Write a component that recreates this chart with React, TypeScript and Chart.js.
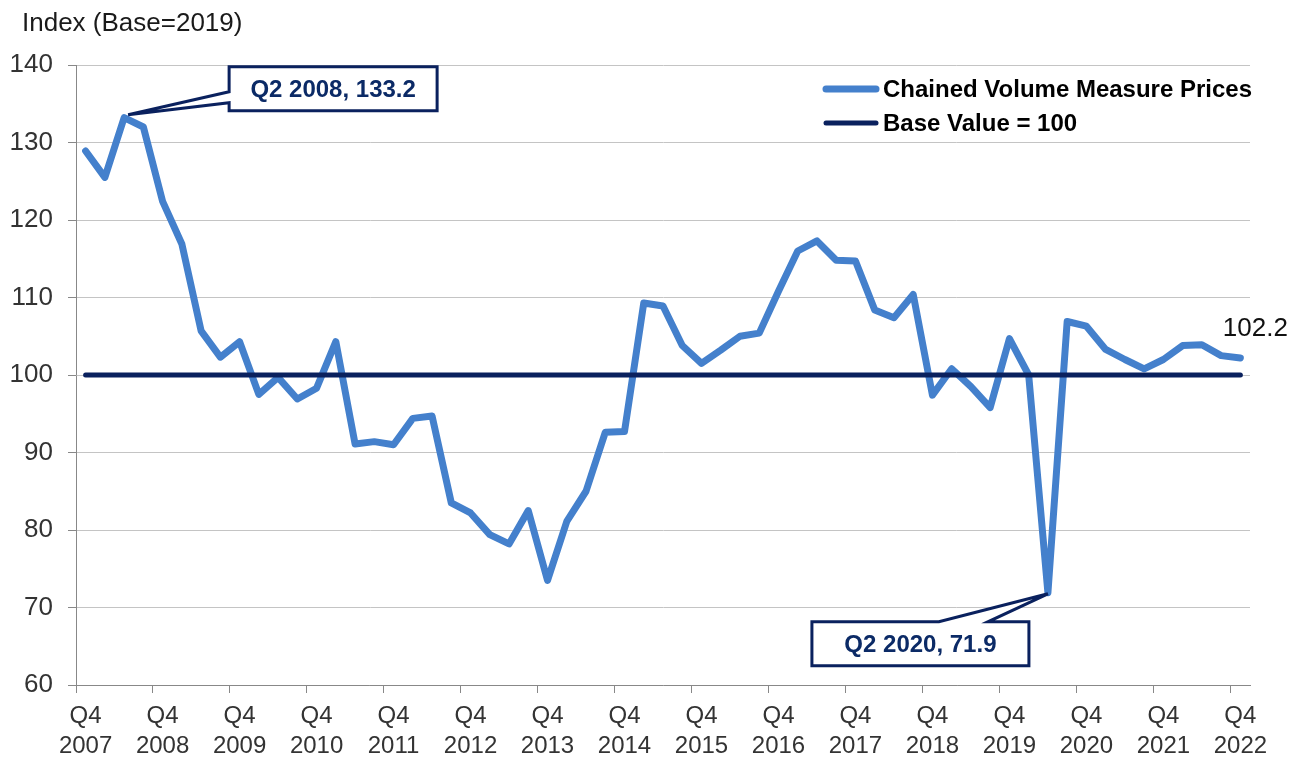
import React, { useEffect, useRef } from "react";
import { Chart, registerables } from "chart.js";

Chart.register(...registerables);

// ---------------- data ----------------
const categories = [
  "Q4 2007",
  "Q1 2008", "Q2 2008", "Q3 2008", "Q4 2008",
  "Q1 2009", "Q2 2009", "Q3 2009", "Q4 2009",
  "Q1 2010", "Q2 2010", "Q3 2010", "Q4 2010",
  "Q1 2011", "Q2 2011", "Q3 2011", "Q4 2011",
  "Q1 2012", "Q2 2012", "Q3 2012", "Q4 2012",
  "Q1 2013", "Q2 2013", "Q3 2013", "Q4 2013",
  "Q1 2014", "Q2 2014", "Q3 2014", "Q4 2014",
  "Q1 2015", "Q2 2015", "Q3 2015", "Q4 2015",
  "Q1 2016", "Q2 2016", "Q3 2016", "Q4 2016",
  "Q1 2017", "Q2 2017", "Q3 2017", "Q4 2017",
  "Q1 2018", "Q2 2018", "Q3 2018", "Q4 2018",
  "Q1 2019", "Q2 2019", "Q3 2019", "Q4 2019",
  "Q1 2020", "Q2 2020", "Q3 2020", "Q4 2020",
  "Q1 2021", "Q2 2021", "Q3 2021", "Q4 2021",
  "Q1 2022", "Q2 2022", "Q3 2022", "Q4 2022",
];

const cvmPrices = [
  128.9,
  125.5, 133.2, 132.0, 122.4,
  116.9, 105.7, 102.3, 104.3,
  97.5, 99.7, 96.9, 98.3,
  104.3, 91.1, 91.4, 91.0,
  94.4, 94.7, 83.5, 82.2,
  79.4, 78.2, 82.5, 73.5,
  81.1, 85.0, 92.6, 92.7,
  109.3, 108.9, 103.8, 101.5,
  103.2, 105.0, 105.4, 110.8,
  116.0, 117.3, 114.8, 114.7,
  108.4, 107.4, 110.4, 97.4,
  100.8, 98.5, 95.8, 104.7,
  100.0, 71.9, 106.9, 106.3,
  103.3, 102.0, 100.8, 102.0,
  103.8, 103.9, 102.5, 102.2,
];

const BASE_VALUE = 100;
const baseSeries = categories.map(() => BASE_VALUE);

const seriesNames = ["Chained Volume Measure Prices", "Base Value = 100"];
const yAxisTitle = "Index (Base=2019)";
const yMin = 60;
const yMax = 140;
const yStep = 10;

const calloutCategories = ["Q2 2008", "Q2 2020"];
const endLabelCategory = "Q4 2022";

// ---------------- styles ----------------
const FONT = "'Liberation Sans', Arial, Helvetica, sans-serif";
const BLUE = "#4480CC";
const NAVY = "#0A215E";
const NAVY_TEXT = "#0B2A66";
const GRID = "#C4C4C4";
const AXIS = "#888888";
const TICK_TEXT = "#333333";

// callout geometry relative to the data point
const calloutLayout = [
  { dx: 105, dy: -51, w: 208, h: 44, side: "left", a1: 25, a2: 36, tipDx: 4, tipDy: -3 },
  { dx: -236, dy: 29, w: 217, h: 44, side: "top", a1: 127, a2: 176, tipDx: 0, tipDy: 1 },
];

const overlayPlugin = {
  id: "overlay",
  afterDraw(chart: any) {
    const ctx = chart.ctx as CanvasRenderingContext2D;
    const xs = chart.scales.x;
    const ys = chart.scales.y;

    ctx.save();
    // axis title
    ctx.font = `26px ${FONT}`;
    ctx.fillStyle = "#1a1a1a";
    ctx.textAlign = "left";
    ctx.textBaseline = "middle";
    ctx.fillText(yAxisTitle, 22, 24);

    // legend
    const legendItems = [
      { name: seriesNames[0], color: BLUE, width: 7, y: 89 },
      { name: seriesNames[1], color: NAVY, width: 5, y: 123 },
    ];
    legendItems.forEach((it) => {
      ctx.beginPath();
      ctx.strokeStyle = it.color;
      ctx.lineWidth = it.width;
      ctx.lineCap = "round";
      ctx.moveTo(826, it.y);
      ctx.lineTo(876, it.y);
      ctx.stroke();
      ctx.font = `bold 24px ${FONT}`;
      ctx.fillStyle = "#000000";
      ctx.textAlign = "left";
      ctx.textBaseline = "middle";
      ctx.fillText(it.name, 883, it.y + 1);
    });

    // callouts
    calloutCategories.forEach((cat, k) => {
      const idx = categories.indexOf(cat);
      const val = cvmPrices[idx];
      const px = xs.getPixelForValue(idx);
      const py = ys.getPixelForValue(val);
      const lay = calloutLayout[k];
      const L = px + lay.dx;
      const T = py + lay.dy;
      const R = L + lay.w;
      const B = T + lay.h;
      const tx = px + lay.tipDx;
      const ty = py + lay.tipDy;
      ctx.beginPath();
      if (lay.side === "left") {
        ctx.moveTo(L, T);
        ctx.lineTo(R, T);
        ctx.lineTo(R, B);
        ctx.lineTo(L, B);
        ctx.lineTo(L, T + lay.a2);
        ctx.lineTo(tx, ty);
        ctx.lineTo(L, T + lay.a1);
        ctx.closePath();
      } else {
        ctx.moveTo(L, T);
        ctx.lineTo(L + lay.a1, T);
        ctx.lineTo(tx, ty);
        ctx.lineTo(L + lay.a2, T);
        ctx.lineTo(R, T);
        ctx.lineTo(R, B);
        ctx.lineTo(L, B);
        ctx.closePath();
      }
      ctx.fillStyle = "#ffffff";
      ctx.fill();
      ctx.lineWidth = 3;
      ctx.lineJoin = "miter";
      ctx.strokeStyle = NAVY;
      ctx.stroke();
      ctx.font = `bold 24px ${FONT}`;
      ctx.fillStyle = NAVY_TEXT;
      ctx.textAlign = "center";
      ctx.textBaseline = "middle";
      ctx.fillText(`${cat}, ${val.toFixed(1)}`, (L + R) / 2, (T + B) / 2 + 2);
    });

    // end label
    const eIdx = categories.indexOf(endLabelCategory);
    const eVal = cvmPrices[eIdx];
    ctx.font = `26px ${FONT}`;
    ctx.fillStyle = "#111111";
    ctx.textAlign = "center";
    ctx.textBaseline = "middle";
    ctx.fillText(eVal.toFixed(1), xs.getPixelForValue(eIdx) + 15, ys.getPixelForValue(eVal) - 29);
    ctx.restore();
  },
};

export default function App() {
  const ref = useRef<HTMLCanvasElement | null>(null);

  useEffect(() => {
    if (!ref.current) return;
    const chart = new Chart(ref.current, {
      type: "line",
      data: {
        labels: categories,
        datasets: [
          {
            label: seriesNames[0],
            data: cvmPrices,
            borderColor: BLUE,
            backgroundColor: BLUE,
            borderWidth: 7,
            pointRadius: 0,
            tension: 0,
            borderJoinStyle: "round",
            borderCapStyle: "round",
            order: 2,
          },
          {
            label: seriesNames[1],
            data: baseSeries,
            borderColor: NAVY,
            backgroundColor: NAVY,
            borderWidth: 5,
            pointRadius: 0,
            tension: 0,
            borderCapStyle: "round",
            order: 1,
          },
        ],
      },
      options: {
        responsive: false,
        animation: false,
        layout: { padding: { left: 0, top: 65, right: 52, bottom: 0 } },
        plugins: {
          legend: { display: false },
          tooltip: { enabled: false },
          title: { display: false },
        },
        scales: {
          x: {
            type: "category",
            offset: true,
            afterFit: (s: any) => {
              s.height = 75;
            },
            grid: {
              offset: true,
              drawOnChartArea: false,
              drawTicks: true,
              tickLength: 8,
              tickColor: (c: any) =>
                c.index !== undefined && c.index % 4 === 0 && c.index < categories.length ? AXIS : "rgba(0,0,0,0)",
            },
            border: { display: true, color: AXIS, width: 1 },
            ticks: {
              autoSkip: false,
              maxRotation: 0,
              minRotation: 0,
              padding: 8,
              color: TICK_TEXT,
              font: { family: FONT, size: 24, lineHeight: 1.25 },
              callback: (_v: any, i: number) => {
                const c = categories[i];
                if (!c || !c.startsWith("Q4")) return "";
                return c.split(" ");
              },
            },
          },
          y: {
            min: yMin,
            max: yMax,
            afterFit: (s: any) => {
              s.width = 76;
            },
            grid: {
              color: GRID,
              lineWidth: 1,
              drawTicks: true,
              tickLength: 8,
              tickColor: AXIS,
            },
            border: { display: true, color: AXIS, width: 1 },
            ticks: {
              stepSize: yStep,
              padding: 15,
              color: TICK_TEXT,
              font: { family: FONT, size: 26 },
            },
          },
        },
      },
      plugins: [overlayPlugin],
    } as any);
    return () => chart.destroy();
  }, []);

  return (
    <div style={{ position: "fixed", left: 0, top: 0, width: 1302, height: 760, background: "#ffffff" }}>
      <canvas ref={ref} width={1302} height={760} style={{ width: 1302, height: 760, display: "block" }} />
    </div>
  );
}
